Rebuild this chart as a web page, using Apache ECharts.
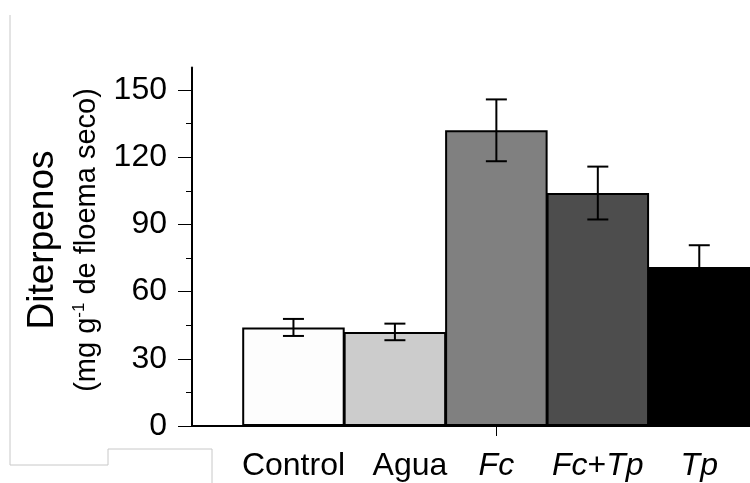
<!DOCTYPE html>
<html>
<head>
<meta charset="utf-8">
<script src="https://cdn.jsdelivr.net/npm/echarts@6/dist/echarts.min.js"></script>
<style>
  html, body { margin: 0; padding: 0; background: #fff; }
  #chart { width: 750px; height: 483px; }
</style>
</head>
<body>
<div id="chart"></div>
<script>
// treatments, mean diterpenes and standard error
const categories = ['Control', 'Agua', 'Fc', 'Fc+Tp', 'Tp'];
const means = [44, 42, 132, 104, 71];
const errors = [3.8, 3.7, 13.8, 11.8, 9.7];
const barColors = ['#fdfdfd', '#cccccc', '#808080', '#4d4d4d', '#000000'];
const yMajorTicks = [0, 30, 60, 90, 120, 150];
const yMinorTicks = [15, 45, 75, 105, 135];

const FONT = 'Liberation Sans, Arial, sans-serif';

const chart = echarts.init(document.getElementById('chart'));

// Fc and Tp are species names, in italics; "Agua" sits a bit right of its bar
const labelText = (name) => {
  if (name === 'Agua') return '{a|Agua}';
  return name.replace(/Fc|Tp/g, m => '{i|' + m + '}');
};

const barData = means.map((v, i) => ({
  value: [i, v],
  itemStyle: { color: barColors[i] },
}));
const errData = means.map((v, i) => [i, v - errors[i], v + errors[i]]);

const option = {
  animation: false,
  backgroundColor: '#fff',
  grid: {
    left: 192,
    right: -6,
    top: 67.6,
    bottom: 57,
  },
  xAxis: {
    type: 'value',
    min: -1,
    max: 4.5,
    interval: 1,
    splitLine: { show: false },
    axisLine: { show: true, onZero: false, lineStyle: { color: '#000', width: 2 } },
    axisTick: {
      show: true,
      customValues: [2],
      length: 10,
      lineStyle: { color: '#000', width: 1 },
    },
    axisLabel: {
      customValues: [0, 1, 2, 3, 4],
      margin: 24,
      color: '#000',
      fontFamily: FONT,
      fontSize: 32,
      formatter: (v) => labelText(categories[v]),
      rich: {
        i: { fontStyle: 'italic', fontFamily: FONT, fontSize: 32, color: '#000' },
        a: { fontFamily: FONT, fontSize: 32, color: '#000', padding: [0, 0, 0, 30] },
      },
    },
  },
  yAxis: [
    {
      type: 'value',
      min: 0,
      max: 160,
      splitLine: { show: false },
      axisLine: { show: true, onZero: false, lineStyle: { color: '#000', width: 2 } },
      axisTick: {
        show: true,
        customValues: yMajorTicks,
        length: 14,
        lineStyle: { color: '#000', width: 1 },
      },
      axisLabel: {
        customValues: yMajorTicks,
        margin: 25,
        color: '#000',
        fontFamily: FONT,
        fontSize: 32,
      },
    },
    {
      type: 'value',
      min: 0,
      max: 160,
      position: 'left',
      offset: 0,
      splitLine: { show: false },
      axisLine: { show: false, onZero: false },
      axisLabel: { show: false },
      axisTick: {
        show: true,
        customValues: yMinorTicks,
        length: 6,
        lineStyle: { color: '#000', width: 1 },
      },
    },
  ],
  graphic: [
    {
      type: 'polyline',
      shape: { points: [[10, 15], [10, 465], [108, 465], [108, 449], [212, 449], [212, 483]] },
      style: { stroke: '#c8c8c8', lineWidth: 1, fill: null },
      silent: true,
    },
    {
      type: 'text',
      x: 43,
      y: 240,
      rotation: Math.PI / 2,
      style: {
        text: 'Diterpenos',
        font: '37px ' + FONT,
        fill: '#000',
        align: 'center',
        verticalAlign: 'middle',
      },
    },
    {
      type: 'text',
      x: 87,
      y: 240,
      rotation: Math.PI / 2,
      style: {
        text: '{n|(mg g}{s|-1}{n| de floema seco)}',
        align: 'center',
        verticalAlign: 'middle',
        rich: {
          n: { font: '29px ' + FONT, fill: '#000', lineHeight: 32 },
          s: { font: '17px ' + FONT, fill: '#000', verticalAlign: 'top', lineHeight: 32 },
        },
      },
    },
  ],
  series: [
    {
      type: 'bar',
      data: barData,
      barWidth: 102.5,
      itemStyle: { borderColor: '#000', borderWidth: 2 },
      z: 2,
    },
    {
      type: 'custom',
      data: errData,
      z: 3,
      renderItem: (params, api) => {
        const x = api.value(0);
        const lo = api.coord([x, api.value(1)]);
        const hi = api.coord([x, api.value(2)]);
        const half = 10.5;
        const style = { stroke: '#000', lineWidth: 2 };
        return {
          type: 'group',
          children: [
            { type: 'line', shape: { x1: lo[0], y1: lo[1], x2: hi[0], y2: hi[1] }, style },
            { type: 'line', shape: { x1: hi[0] - half, y1: hi[1], x2: hi[0] + half, y2: hi[1] }, style },
            { type: 'line', shape: { x1: lo[0] - half, y1: lo[1], x2: lo[0] + half, y2: lo[1] }, style },
          ],
        };
      },
    },
  ],
};

chart.setOption(option);
</script>
</body>
</html>
